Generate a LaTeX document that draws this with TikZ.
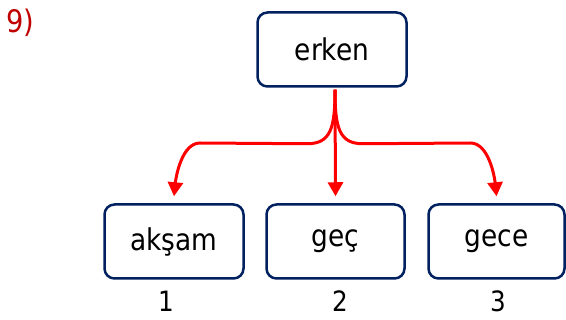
\documentclass[tikz,border=0pt]{standalone}
\usepackage{fontspec}
\setmainfont{DejaVu Sans}[FakeStretch=0.88]
\usetikzlibrary{arrows.meta,calc}
\definecolor{boxnavy}{RGB}{0,32,96}
\definecolor{numred}{RGB}{192,0,0}
\definecolor{arrred}{RGB}{255,0,0}
\begin{document}
\begin{tikzpicture}[x=1pt,y=-1pt,
  wordbox/.style={draw=boxnavy,line width=2.5pt,rounded corners=10pt,fill=white,
    minimum height=74pt,inner sep=0pt,font=\fontsize{30}{34}\selectfont},
  numlabel/.style={font=\fontsize{28}{32}\selectfont,inner sep=0pt,anchor=base},
  redarrow/.style={draw=arrred,line width=3pt,-{Triangle[length=14pt,width=15pt]}}]
\useasboundingbox (0,0) rectangle (566,320);
\node[anchor=base west,text=numred,font=\fontsize{31}{34}\selectfont,inner sep=0pt] (num) at (6,33) {9)};
\node[wordbox,minimum width=149pt] (erken) at (332,49.5) {erken};
\node[wordbox,minimum width=139pt] (aksam) at (174,241.5) {akşam};
\node[wordbox,minimum width=138pt] (gec) at (335.5,241.5) {geç};
\node[wordbox,minimum width=136pt] (gece) at (496.5,241.5) {gece};
\node[numlabel] (n1) at (166,312) {1};
\node[numlabel] (n2) at (340,312) {2};
\node[numlabel] (n3) at (498,312) {3};
\coordinate (fork) at ($(erken.south)+(3,2)$);
\coordinate (tipA) at ($(aksam.north)+(0,-7)$);
\coordinate (tipB) at ($(gec.north)+(0,-7)$);
\coordinate (tipC) at ($(gece.north)+(0,-7)$);
\draw[redarrow] (fork) .. controls ($(fork)+(0,38)$) and ($(fork)+(-4,54)$) .. ($(fork)+(-28,54)$)
  -- ($(aksam.north |- 0,143)+(26,0)$) .. controls ++(-18,0) and ($(tipA)+(2,-20)$) .. (tipA);
\draw[redarrow] (fork) -- (tipB);
\draw[redarrow] (fork) .. controls ($(fork)+(0,38)$) and ($(fork)+(4,54)$) .. ($(fork)+(28,54)$)
  -- ($(gece.north |- 0,143)+(-26,0)$) .. controls ++(18,0) and ($(tipC)+(-2,-20)$) .. (tipC);
\end{tikzpicture}
\end{document}
